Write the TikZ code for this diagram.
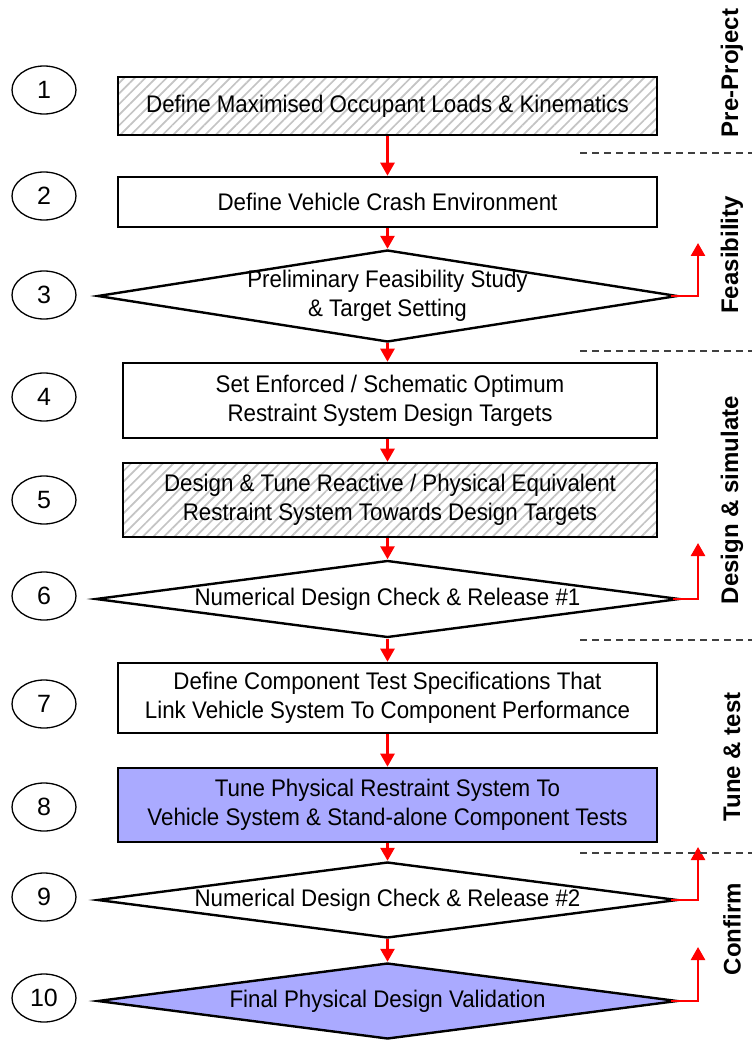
\documentclass[tikz,border=0pt]{standalone}
\usepackage{fontspec}
\setmainfont{Liberation Sans}
\newfontfamily\stepfont[FakeStretch=0.93]{Liberation Sans}
\usetikzlibrary{shapes.geometric,arrows.meta,patterns.meta}
\definecolor{lav}{RGB}{170,170,255}
\definecolor{hatchgray}{RGB}{196,196,196}

\begin{document}
\begin{tikzpicture}[x=1pt,y=-1pt,
  every node/.style={font=\stepfont\fontsize{24}{29}\selectfont},
  num/.style={ellipse, draw, line width=1.3pt, minimum width=64pt, minimum height=48pt, inner sep=0pt,
    font=\fontsize{25}{28}\selectfont},
  stepbox/.style={rectangle, draw, line width=2.6pt, inner sep=0pt, align=center},
  hatched/.style={preaction={fill=white}, pattern={Lines[angle=45,distance=7.5pt,line width=1.7pt]}, pattern color=hatchgray},
  dmd/.style={diamond, draw, line width=2.4pt, inner sep=0pt},
  lbl/.style={align=center, inner sep=0pt},
  flow/.style={draw=red, line width=2.6pt, -{Triangle[width=14pt,length=13pt]}},
  phase/.style={rotate=90, font=\fontsize{24}{28}\selectfont\bfseries},
  sep/.style={draw=black!75, line width=2pt, dash pattern=on 7pt off 5pt}
]
\useasboundingbox (0,0) rectangle (752,1040);
\fill[white] (0,0) rectangle (752,1040);

% step numbers
\node[num] (n1) at (44,90) {1};
\node[num] (n2) at (44,196) {2};
\node[num] (n3) at (44,295) {3};
\node[num] (n4) at (44,397) {4};
\node[num] (n5) at (44,500) {5};
\node[num] (n6) at (44,596) {6};
\node[num] (n7) at (44,704) {7};
\node[num] (n8) at (44,807) {8};
\node[num] (n9) at (44,897) {9};
\node[num] (n10) at (44,998) {10};

% process steps
\node[stepbox, hatched, minimum width=539pt, minimum height=58pt] (b1) at (387.5,106)
  {Define Maximised Occupant Loads \& Kinematics};
\node[stepbox, minimum width=539pt, minimum height=50pt] (b2) at (387.5,202)
  {Define Vehicle Crash Environment};
\node[dmd, minimum width=580pt, minimum height=92pt] (d3) at (387.5,296) {};
\node[lbl] (t3) at (d3.center) {Preliminary Feasibility Study\\\& Target Setting};
\node[stepbox, minimum width=534pt, minimum height=75pt] (b4) at (390,400.5)
  {Set Enforced / Schematic Optimum\\Restraint System Design Targets};
\node[stepbox, hatched, minimum width=534pt, minimum height=74pt] (b5) at (390,500)
  {Design \& Tune Reactive / Physical Equivalent\\Restraint System Towards Design Targets};
\node[dmd, minimum width=584pt, minimum height=77pt] (d6) at (387.5,599) {};
\node[lbl] (t6) at (d6.center) {Numerical Design Check \& Release \#1};
\node[stepbox, minimum width=539pt, minimum height=70pt] (b7) at (387.5,698)
  {Define Component Test Specifications That\\Link Vehicle System To Component Performance};
\node[stepbox, fill=lav, minimum width=539pt, minimum height=74pt] (b8) at (387.5,805)
  {Tune Physical Restraint System To\\Vehicle System \& Stand-alone Component Tests};
\node[dmd, minimum width=580pt, minimum height=76pt] (d9) at (387.5,900) {};
\node[lbl] (t9) at (d9.center) {Numerical Design Check \& Release \#2};
\node[dmd, fill=lav, minimum width=580pt, minimum height=76pt] (d10) at (387.5,1001) {};
\node[lbl] (t10) at (d10.center) {Final Physical Design Validation};

% main flow
\draw[flow] (b1.south) -- (b2.north);
\draw[flow] (b2.south) -- (d3.north);
\draw[flow] (d3.south) -- (d3.south |- b4.north);
\draw[flow] (b4.south -| d3.south) -- (d3.south |- b5.north);
\draw[flow] (b5.south -| d6.north) -- (d6.north);
\draw[flow] (d6.south) -- (b7.north);
\draw[flow] (b7.south) -- (b8.north);
\draw[flow] (b8.south) -- (d9.north);
\draw[flow] (d9.south) -- (d10.north);

% exits from the decision points
\coordinate (x3) at (698,243);
\coordinate (x6) at (698,543);
\coordinate (x9) at (698,847);
\coordinate (x10) at (698,947);
\draw[flow] ([xshift=-8pt]d3.east) -| (x3);
\draw[flow] ([xshift=-8pt]d6.east) -| (x6);
\draw[flow] ([xshift=-8pt]d9.east) -| (x9);
\draw[flow] ([xshift=-8pt]d10.east) -| (x10);

% phase separators
\draw[sep] (580,153) -- (752,153);
\draw[sep] (580,351) -- (752,351);
\draw[sep] (580,640) -- (752,640);
\draw[sep] (580,853) -- (752,853);

% phase names
\node[phase] (p1) at (732,73) {Pre-Project};
\node[phase] (p2) at (732,255) {Feasibility};
\node[phase] (p3) at (732,500) {Design \& simulate};
\node[phase] (p4) at (732,757) {Tune \& test};
\node[phase] (p5) at (732,929) {Confirm};
\end{tikzpicture}
\end{document}
